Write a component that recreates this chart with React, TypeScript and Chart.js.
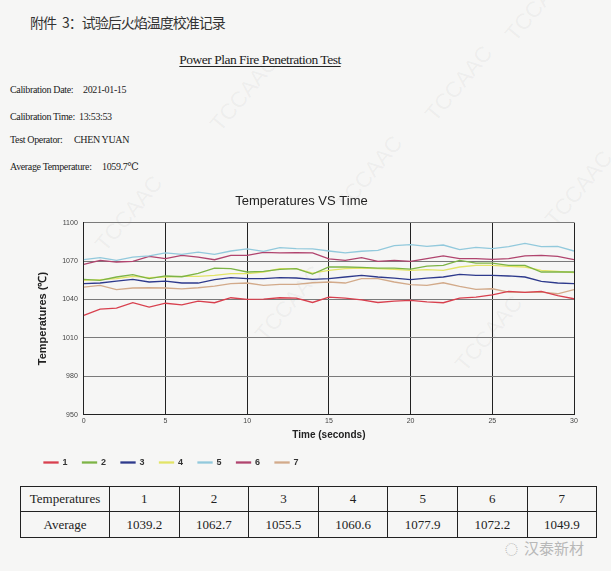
import React, { useEffect, useRef } from "react";
import { Chart, registerables } from "chart.js";

Chart.register(...registerables);

const times = [0, 1, 2, 3, 4, 5, 6, 7, 8, 9, 10, 11, 12, 13, 14, 15, 16, 17, 18, 19, 20, 21, 22, 23, 24, 25, 26, 27, 28, 29, 30];

const t1 = [1027.5, 1032.4, 1033.2, 1037.4, 1034, 1037, 1035.8, 1038.7, 1037.4, 1041.3, 1040, 1040.2, 1041.3, 1041, 1037.6, 1041.8, 1041, 1039.7, 1037.6, 1038.7, 1039.2, 1038, 1037.4, 1041, 1041.8, 1043.6, 1046.3, 1045.5, 1046.3, 1043, 1040.5];
const t2 = [1055.6, 1054.9, 1057.5, 1059.3, 1056.2, 1058.3, 1057.7, 1060.3, 1064.5, 1064, 1061.4, 1061.9, 1063.5, 1064, 1059.8, 1065.3, 1065.3, 1065, 1064.5, 1064.5, 1063.7, 1066, 1066.6, 1070.5, 1068.4, 1068.4, 1066.6, 1066.6, 1061.4, 1061.4, 1061.4];
const t3 = [1052.3, 1052.8, 1054.3, 1055.6, 1053.6, 1054.3, 1052.8, 1052.8, 1055.4, 1057, 1056.2, 1056.2, 1057, 1056.7, 1055.6, 1056.2, 1057.5, 1058.8, 1057.5, 1056.7, 1055.4, 1056.7, 1057.5, 1059.6, 1058.8, 1058.8, 1058.3, 1057.5, 1054.1, 1052.8, 1052.3];
const t4 = [1054.9, 1055.4, 1056.2, 1058, 1057, 1057.5, 1058, 1058, 1058.8, 1060.1, 1060.1, 1061.4, 1064, 1064, 1060.6, 1062.7, 1064, 1064.5, 1064, 1063.5, 1062.7, 1063.2, 1062.7, 1065.3, 1066.6, 1066.6, 1065.8, 1065.3, 1062.7, 1061.9, 1060.9];
const t5 = [1071, 1072.6, 1070.5, 1073, 1074, 1076.3, 1075.2, 1077, 1075.2, 1077.8, 1079.4, 1077.6, 1080.4, 1079.6, 1079.4, 1077.8, 1076.3, 1077.6, 1078.3, 1082, 1082.8, 1081.5, 1082.5, 1078.9, 1080.7, 1079.6, 1081.2, 1083.8, 1081.2, 1081.5, 1077.8];
const t6 = [1067.4, 1070.5, 1069.2, 1069.7, 1073.6, 1071.8, 1074.4, 1073, 1071, 1074.4, 1074.4, 1076.8, 1076.3, 1076.5, 1076.3, 1071.6, 1070.5, 1072.6, 1069.7, 1070.5, 1069.7, 1071.8, 1074, 1071.8, 1071.8, 1071.3, 1071.8, 1074, 1074.4, 1073.6, 1071];
const t7 = [1049.6, 1050.9, 1047.6, 1048.9, 1049.1, 1048.9, 1048.3, 1049.1, 1050.4, 1052.3, 1052.8, 1050.9, 1051.7, 1051.7, 1053, 1053.6, 1052.8, 1056.2, 1056.2, 1053.6, 1051.5, 1050.9, 1053, 1050.2, 1047.8, 1048.3, 1045.7, 1045.5, 1045.7, 1044.4, 1047.6];

const seriesNames = ["1", "2", "3", "4", "5", "6", "7"];
const seriesValues = [t1, t2, t3, t4, t5, t6, t7];
const seriesColors = ["#d8404e", "#7db446", "#2e3a8c", "#e2e466", "#92c9dc", "#b0446e", "#d2aa8a"];

const averages = ["1039.2", "1062.7", "1055.5", "1060.6", "1077.9", "1072.2", "1049.9"];

const serif = "'Liberation Serif', 'DejaVu Serif', serif";
const sans = "'Liberation Sans', Arial, sans-serif";
const cjk = "'Noto Sans CJK SC', sans-serif";

function ChartBox() {
  const ref = useRef<HTMLCanvasElement | null>(null);
  useEffect(() => {
    if (!ref.current) return;
    const chart = new Chart(ref.current, {
      type: "line",
      data: {
        datasets: seriesNames.map((name, i) => ({
          label: name,
          data: times.map((t, j) => ({ x: t, y: seriesValues[i][j] })),
          borderColor: seriesColors[i],
          backgroundColor: seriesColors[i],
          borderWidth: 1.3,
          pointRadius: 0,
          tension: 0,
          fill: false,
        })),
      },
      options: {
        animation: false,
        responsive: false,
        maintainAspectRatio: false,
        layout: { padding: { left: 9, right: 18, top: 0, bottom: 2 } },
        plugins: {
          title: {
            display: true,
            text: "Temperatures VS Time",
            color: "#222",
            font: { family: sans, size: 13, weight: "normal" },
            padding: { top: 9, bottom: 13 },
          },
          legend: {
            display: true,
            position: "bottom",
            align: "start",
            labels: {
              boxWidth: 14,
              boxHeight: 1,
              padding: 15,
              color: "#333",
              font: { family: sans, size: 9, weight: "bold" },
            },
          },
          tooltip: { enabled: false },
        },
        scales: {
          x: {
            type: "linear",
            min: 0,
            max: 30,
            ticks: { stepSize: 5, color: "#444", font: { family: sans, size: 7 }, padding: 2 },
            grid: { color: "#222", lineWidth: 1, drawTicks: false },
            border: { color: "#222" },
            title: {
              display: true,
              text: "Time (seconds)",
              color: "#222",
              font: { family: sans, size: 10, weight: "bold" },
              padding: { top: 2, bottom: 2 },
            },
          },
          y: {
            type: "linear",
            min: 950,
            max: 1100,
            ticks: {
              stepSize: 30,
              color: "#444",
              font: { family: sans, size: 7 },
              padding: 6,
              callback: (v: any) => String(v),
            },
            grid: { color: "#7a7a7a", lineWidth: 1, drawTicks: false },
            border: { color: "#222" },
            title: {
              display: true,
              text: "Temperatures (℃)",
              color: "#222",
              font: { family: sans, size: 11, weight: "bold" },
              padding: { top: 7, bottom: 7 },
            },
          },
        },
      },
    });
    return () => chart.destroy();
  }, []);
  return <canvas ref={ref} width={572} height={294} style={{ position: "absolute", left: 20, top: 185, width: 572, height: 294 }} />;
}

const marks = [
  { x: 205, y: 120 },
  { x: 420, y: 110 },
  { x: 500, y: 30 },
  { x: 90, y: 240 },
  { x: 330, y: 200 },
  { x: 540, y: 215 },
  { x: 250, y: 330 },
  { x: 450, y: 360 },
];

const info: [string, string, number, number][] = [
  ["Calibration Date:", "2021-01-15", 84, 73],
  ["Calibration Time:", "13:53:53", 111, 69],
  ["Test Operator:", "CHEN YUAN", 134, 64],
  ["Average Temperature:", "1059.7℃", 161, 92],
];

export default function App() {
  const cell: React.CSSProperties = {
    border: "1.5px solid #222",
    textAlign: "center",
    fontFamily: serif,
    fontSize: 13,
    color: "#222",
    padding: 0,
  };
  return (
    <div style={{ position: "absolute", left: 0, top: 0, width: 611, height: 571, background: "#f6f6f5", overflow: "hidden" }}>
      {marks.map((m, i) => (
        <div key={i} style={{ position: "absolute", left: m.x, top: m.y, fontFamily: sans, fontSize: 22, color: "rgba(120,120,120,0.08)", transform: "rotate(-50deg)", transformOrigin: "left top", whiteSpace: "nowrap" }}>TCCAAC</div>
      ))}
      <div style={{ position: "absolute", left: 30, top: 12, fontFamily: cjk, fontSize: 14, letterSpacing: -1, color: "#333", whiteSpace: "nowrap" }}>
        附件<span style={{ marginLeft: 6 }}>3：</span>试验后火焰温度校准记录
      </div>
      <div style={{ position: "absolute", left: 0, width: 520, top: 52, textAlign: "center", fontFamily: serif, fontSize: 13.5, letterSpacing: -0.5, color: "#222", textDecoration: "underline", textUnderlineOffset: 2, whiteSpace: "nowrap" }}>Power Plan Fire Penetration Test</div>
      {info.map(([label, value, top, left], i) => (
        <div key={i} style={{ position: "absolute", left: 10, top, fontFamily: serif, fontSize: 10, letterSpacing: -0.35, color: "#222", whiteSpace: "nowrap" }}>
          {label}
          <span style={{ position: "absolute", left }}>{value}</span>
        </div>
      ))}
      <ChartBox />
      <table style={{ position: "absolute", left: 20, top: 486, width: 576, borderCollapse: "collapse", tableLayout: "fixed" }}>
        <colgroup>
          <col style={{ width: 89 }} />
          {seriesNames.map((n) => (
            <col key={n} style={{ width: 69.6 }} />
          ))}
        </colgroup>
        <tbody>
          <tr style={{ height: 25 }}>
            <td style={cell}>Temperatures</td>
            {seriesNames.map((n) => (
              <td key={n} style={cell}>{n}</td>
            ))}
          </tr>
          <tr style={{ height: 26 }}>
            <td style={cell}>Average</td>
            {averages.map((a, i) => (
              <td key={i} style={cell}>{a}</td>
            ))}
          </tr>
        </tbody>
      </table>
      <div style={{ position: "absolute", left: 505, top: 537, fontFamily: cjk, fontSize: 15, color: "#b8b8b8", whiteSpace: "nowrap" }}>
        <span style={{ fontSize: 13, marginRight: 6 }}>◌</span>汉泰新材
      </div>
    </div>
  );
}
